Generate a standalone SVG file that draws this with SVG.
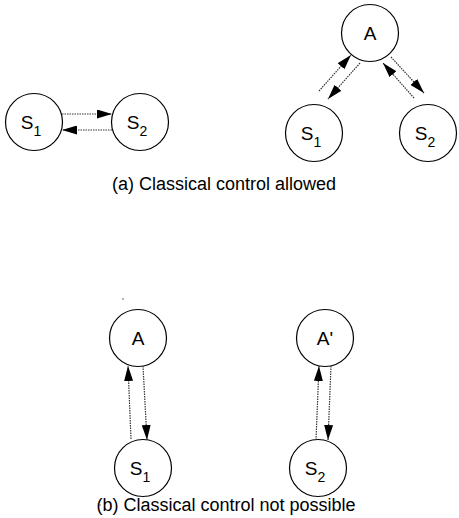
<svg xmlns="http://www.w3.org/2000/svg" width="459" height="518" viewBox="0 0 459 518">
<style>
.node circle{fill:#fff;stroke:#000;stroke-width:1.2}
.lbl{font-family:"Liberation Sans",Arial,sans-serif;font-size:19px;fill:#000;text-anchor:middle}
.sub{font-size:14px}
.cap{font-family:"Liberation Sans",Arial,sans-serif;font-size:18px;fill:#000;text-anchor:middle}
.conn line{stroke:#333;stroke-width:1.2;stroke-dasharray:1.5 1;marker-end:url(#ah)}
</style>
<defs>
<marker id="ah" viewBox="0 0 15 9" refX="15" refY="4.5" markerWidth="15" markerHeight="9" markerUnits="userSpaceOnUse" orient="auto">
<path d="M0,0 L15,4.5 L0,9 Z" fill="#000"/>
</marker>
</defs>
<g id="a-S1" class="node"><circle cx="34" cy="122" r="28.5"/><text class="lbl" x="31" y="129">S<tspan class="sub" dy="7">1</tspan></text></g>
<g id="a-S2" class="node"><circle cx="140" cy="122" r="28.5"/><text class="lbl" x="137" y="129">S<tspan class="sub" dy="7">2</tspan></text></g>
<g id="a-A" class="node"><circle cx="370" cy="33" r="28.5"/><text class="lbl" x="370" y="40">A</text></g>
<g id="a-S1r" class="node"><circle cx="314" cy="133" r="28.5"/><text class="lbl" x="311" y="140">S<tspan class="sub" dy="7">1</tspan></text></g>
<g id="a-S2r" class="node"><circle cx="428" cy="133" r="28.5"/><text class="lbl" x="425" y="140">S<tspan class="sub" dy="7">2</tspan></text></g>
<g id="b-A" class="node"><circle cx="138" cy="338" r="28.5"/><text class="lbl" x="138" y="345">A</text></g>
<g id="b-S1" class="node"><circle cx="143" cy="468" r="28.5"/><text class="lbl" x="140" y="475">S<tspan class="sub" dy="7">1</tspan></text></g>
<g id="b-A2" class="node"><circle cx="325" cy="338" r="28.5"/><text class="lbl" x="325" y="345">A'</text></g>
<g id="b-S2" class="node"><circle cx="318" cy="468" r="28.5"/><text class="lbl" x="315" y="475">S<tspan class="sub" dy="7">2</tspan></text></g>
<g id="connectors" class="conn">
<line x1="62" y1="114" x2="112" y2="114"/>
<line x1="112" y1="130" x2="62" y2="130"/>
<line x1="319" y1="91" x2="351" y2="55"/>
<line x1="360" y1="63" x2="328" y2="99"/>
<line x1="391" y1="57" x2="424" y2="93"/>
<line x1="414" y1="98" x2="383" y2="63"/>
<line x1="131" y1="439" x2="128" y2="366"/>
<line x1="143" y1="366" x2="147" y2="440"/>
<line x1="316" y1="440" x2="319" y2="366"/>
<line x1="331" y1="366" x2="328" y2="440"/>
</g>
<text class="cap" x="224" y="190">(a) Classical control allowed</text>
<text class="cap" x="226" y="511">(b) Classical control not possible</text>
<circle cx="123" cy="299" r="0.8" fill="#555"/>
<circle cx="100" cy="505" r="0.8" fill="#555"/>
</svg>
